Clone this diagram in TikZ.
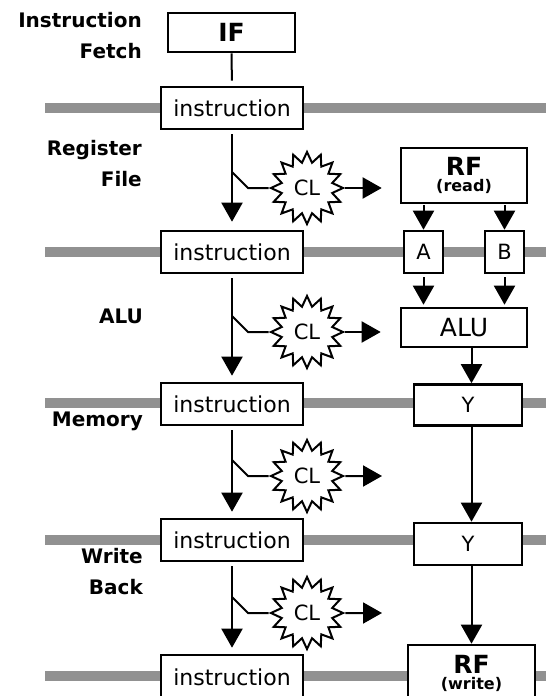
\documentclass[tikz,border=0pt]{standalone}
\usepackage{fontspec}
\setmainfont{DejaVu Sans}
\usetikzlibrary{arrows.meta,shapes.geometric}
\definecolor{pipebar}{RGB}{145,145,145}

\begin{document}
\begin{tikzpicture}[x=1pt,y=-1pt,
  box/.style={draw, line width=2.6pt, fill=white, rectangle, inner sep=0pt},
  instr/.style={box, minimum width=142pt, minimum height=42pt, font=\fontsize{22}{22}\selectfont},
  bigbox/.style={box, minimum width=126pt, align=center, font=\bfseries\fontsize{16}{16}\selectfont},
  latch/.style={box, minimum width=39pt, minimum height=42pt, font=\fontsize{21}{21}\selectfont},
  ybox/.style={box, minimum width=108pt, minimum height=41pt, font=\fontsize{21}{21}\selectfont},
  cloud/.style={star, star points=16, star point ratio=1.4, draw, line width=2pt, fill=white,
    minimum size=72pt, inner sep=0pt, font=\fontsize{21}{21}\selectfont},
  stage/.style={anchor=north east, align=right, inner sep=0pt, font=\bfseries\fontsize{20}{31}\selectfont},
  bar/.style={line width=10pt, draw=pipebar},
  wire/.style={line width=2pt},
  arr/.style={line width=2pt, -{Triangle[length=19pt,width=21pt]}}
]
\clip (0,0) rectangle (546,696);

% pipeline register bars
\foreach \yy in {108,252,403,540,676}
  \draw[bar] (45,\yy) -- (546,\yy);

% stage names
\node[stage] (lif)  at (142,12)  {Instruction\\Fetch};
\node[stage] (lrf)  at (142,140) {Register\\File};
\node[stage] (lalu) at (143,309) {ALU};
\node[stage] (lmem) at (143,412) {Memory};
\node[stage] (lwb)  at (143,548) {Write\\Back};

% instruction path
\node[box, minimum width=127pt, minimum height=39pt, font=\bfseries\fontsize{25}{25}\selectfont] (if) at (231.5,32.5) {IF};
\node[instr] (i1) at (232,108) {instruction};
\node[instr] (i2) at (232,252) {instruction};
\node[instr] (i3) at (232,404) {instruction};
\node[instr] (i4) at (232,540) {instruction};
\node[instr, minimum height=44pt] (i5) at (232,677) {instruction};

% control logic clouds
\node[cloud] (cl2) at (307,188) {CL};
\node[cloud] (cl3) at (307,332) {CL};
\node[cloud] (cl4) at (307,476) {CL};
\node[cloud] (cl5) at (307,613) {CL};

% datapath
\node[bigbox, minimum height=55pt] (rfr) at (464,175.5) {{\fontsize{25}{25}\selectfont RF}\\(read)};
\node[latch] (a) at (423.5,252) {A};
\node[latch] (b) at (504.5,252) {B};
\node[box, minimum width=126pt, minimum height=39pt, font=\fontsize{25}{25}\selectfont] (alu) at (464,327.5) {ALU};
\node[ybox] (y1) at (468,405) {Y};
\node[ybox, minimum height=42pt] (y2) at (468,544) {Y};
\node[bigbox, minimum width=127pt, minimum height=56pt] (rfw) at (471.5,673) {{\fontsize{25}{25}\selectfont RF}\\(write)};

% instruction flow
\draw[wire, shorten >=5pt] (if) -- (i1);
\draw[arr, shorten <=4pt, shorten >=8pt] (i1) -- (i2);
\draw[arr, shorten <=4pt, shorten >=6pt] (i2) -- (i3);
\draw[arr, shorten <=4pt, shorten >=6pt] (i3) -- (i4);
\draw[arr, shorten <=4pt, shorten >=6pt] (i4) -- (i5);

% taps into the control logic
\coordinate (t2) at (232,172);
\coordinate (t3) at (232,316);
\coordinate (t4) at (232,460);
\coordinate (t5) at (232,597);
\draw[wire] (t2) -- ++(16,16) -- (cl2.west);
\draw[wire] (t3) -- ++(16,16) -- (cl3.west);
\draw[wire] (t4) -- ++(16,16) -- (cl4.west);
\draw[wire] (t5) -- ++(16,16) -- (cl5.west);

% control outputs
\coordinate (o4) at (382,476);
\coordinate (o5) at (382,613);
\draw[arr, shorten >=18pt] (cl2.east) -- (cl2.east -| rfr.west);
\draw[arr, shorten >=19pt] (cl3.east) -- (cl3.east -| alu.west);
\draw[arr] (cl4.east) -- (o4);
\draw[arr] (cl5.east) -- (o5);

% data flow
\draw[arr, shorten <=1pt] (rfr.south -| a) -- (a);
\draw[arr, shorten <=1pt] (rfr.south -| b) -- (b);
\draw[arr, shorten <=3pt, shorten >=2pt] (a) -- (a |- alu.north);
\draw[arr, shorten <=3pt, shorten >=2pt] (b) -- (b |- alu.north);
\draw[arr] (alu.south -| rfw) -- (y1.north -| rfw);
\draw[arr] (y1.south -| rfw) -- (y2.north -| rfw);
\draw[arr] (y2.south -| rfw) -- (rfw);
\end{tikzpicture}
\end{document}
